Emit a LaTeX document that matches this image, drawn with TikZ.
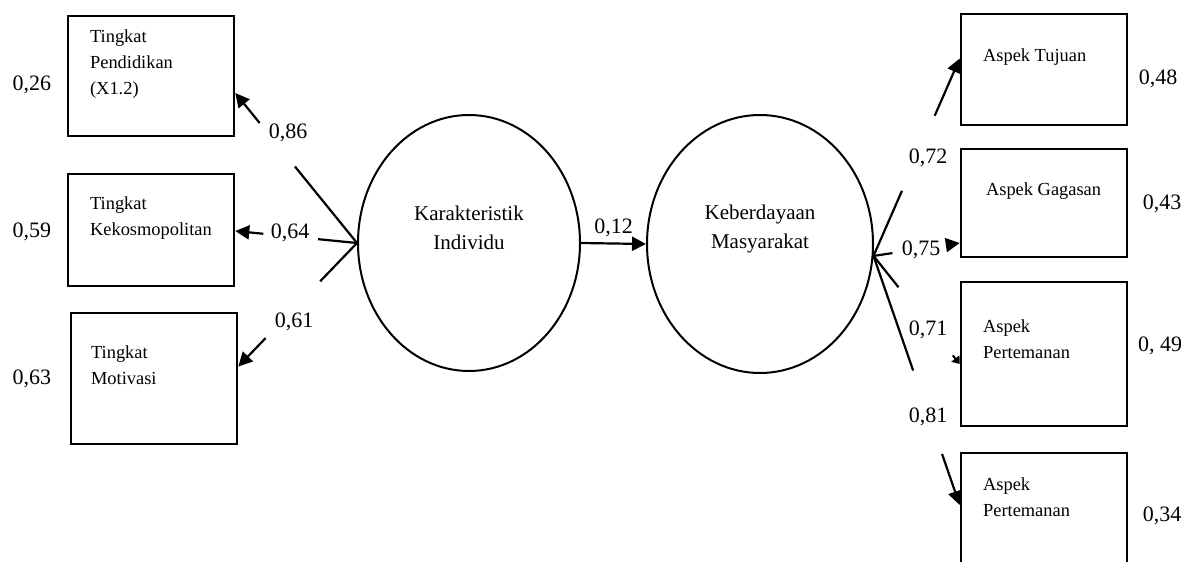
\documentclass[tikz,border=0pt]{standalone}
\usepackage{fontspec}
\setmainfont{Liberation Serif}
\usetikzlibrary{arrows.meta,calc,shapes.geometric}

\begin{document}
\begin{tikzpicture}[x=0.5pt, y=-0.5pt,
    box/.style={draw, line width=1.3pt, minimum width=83pt, inner sep=0pt},
    boxtxt/.style={anchor=north west, align=left, inner sep=0pt, font=\fontsize{9.2}{13}\selectfont},
    latent/.style={draw, ellipse, line width=1pt, inner sep=0pt},
    lattxt/.style={align=center, inner sep=0pt, font=\fontsize{10.5}{14.5}\selectfont},
    val/.style={inner sep=0pt, font=\fontsize{11}{12}\selectfont},
    conn/.style={line width=1.1pt},
    arr/.style={line width=1.1pt, -{Triangle[length=7pt,width=7pt]}}]
                \useasboundingbox (0,0) rectangle (1190,562);

                % Latent variables
                \node[latent, minimum width=111pt, minimum height=128pt] (KI) at (469,243) {};
                \node[lattxt] (KIt) at ($(KI.center)+(0,-15)$) {Karakteristik\\Individu};
                \node[latent, minimum width=113pt, minimum height=129pt] (KM) at (760,244) {};
                \node[lattxt] (KMt) at ($(KM.center)+(0,-15)$) {Keberdayaan\\Masyarakat};
                \draw[arr] (KI.east) -- node[val, above=3pt] (l12) {0,12} (KM.west);

                % Indicators of Karakteristik Individu
                \node[box, minimum height=60pt] (P1) at (151,76) {};
                \node[boxtxt] (P1t) at ($(P1.north west)+(23,15)$) {Tingkat\\Pendidikan\\(X1.2)};
                \node[box, minimum height=56pt] (P2) at (151,230) {};
                \node[boxtxt] (P2t) at ($(P2.north west)+(23,24)$) {Tingkat\\Kekosmopolitan};
                \node[box, minimum height=65.5pt] (P3) at (154,378.5) {};
                \node[boxtxt] (P3t) at ($(P3.north west)+(21,34)$) {Tingkat\\Motivasi};

                \node[val] (e1) at (32,85) {0,26};
                \node[val] (e2) at (32,232) {0,59};
                \node[val] (e3) at (32,379) {0,63};

                % Loadings, left
                \coordinate (t1) at ($(P1.east)+(0,17)$);
                \coordinate (t2) at ($(P2.east)+(0,1)$);
                \coordinate (t3) at ($(P3.east)+(0,-12)$);
                \draw[conn] (KI.west) -- ($(KI.west)!0.51!(t1)$);
                \draw[arr] ($(KI.west)!0.80!(t1)$) -- (t1);
                \draw[conn] (KI.west) -- ($(KI.west)!0.32!(t2)$);
                \draw[arr] ($(KI.west)!0.77!(t2)$) -- (t2);
                \draw[conn] (KI.west) -- ($(KI.west)!0.31!(t3)$);
                \draw[arr] ($(KI.west)!0.77!(t3)$) -- (t3);
                \node[val] (l86) at (288,133) {0,86};
                \node[val] (l64) at (290,233) {0,64};
                \node[val] (l61) at (294,322) {0,61};

                % Indicators of Keberdayaan Masyarakat
                \node[box, minimum height=55.5pt] (R1) at (1044,69.5) {};
                \node[boxtxt] (R1t) at ($(R1.north west)+(23,36)$) {Aspek Tujuan};
                \node[box, minimum height=54pt] (R2) at (1044,203) {};
                \node[boxtxt] (R2t) at ($(R2.north west)+(26,35)$) {Aspek Gagasan};
                \node[box, minimum height=72pt] (R3) at (1044,354) {};
                \node[boxtxt] (R3t) at ($(R3.north west)+(23,39)$) {Aspek\\Pertemanan};
                \node[box, minimum height=61pt] (R4) at (1044,514) {};
                \node[boxtxt] (R4t) at ($(R4.north west)+(23,26)$) {Aspek\\Pertemanan};

                \node[val] (e4) at (1158,79) {0,48};
                \node[val] (e5) at (1162,204) {0,43};
                \node[val] (e6) at (1160,346) {0, 49};
                \node[val] (e7) at (1162,516) {0,34};

                % Loadings, right
                \coordinate (kmR) at (KM.-6);
                \coordinate (s1) at ($(R1.west)+(0,-11)$);
                \coordinate (s2) at ($(R2.west)+(0,40)$);
                \coordinate (s3) at ($(R3.west)+(0,10)$);
                \coordinate (s4) at ($(R4.west)+(0,-9)$);
                \draw[conn] (kmR) -- ($(kmR)!0.33!(s1)$);
                \draw[arr] ($(kmR)!0.71!(s1)$) -- (s1);
                \draw[conn] (kmR) -- ($(kmR)!0.22!(s2)$);
                \draw[arr] ($(kmR)!0.86!(s2)$) -- (s2);
                \draw[conn] (kmR) -- ($(kmR)!0.29!(s3)$);
                \draw[line width=1pt, -{Triangle[length=3.5pt,width=5pt]}] ($(kmR)!0.92!(s3)$) -- (s3);
                \draw[conn] (kmR) -- ($(kmR)!0.46!(s4)$);
                \draw[arr] ($(kmR)!0.795!(s4)$) -- (s4);
                \node[val] (l72) at (928,158) {0,72};
                \node[val] (l75) at (921,250) {0,75};
                \node[val] (l71) at (928,330) {0,71};
                \node[val] (l81) at (928,417) {0,81};
            \end{tikzpicture}
\end{document}
